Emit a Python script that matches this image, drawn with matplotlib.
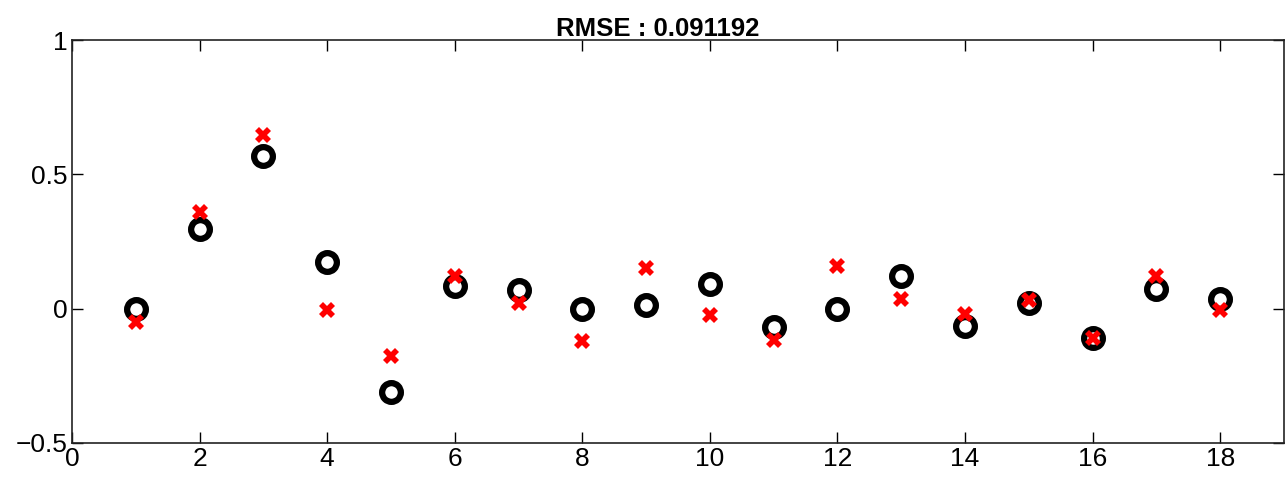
import numpy as np
import matplotlib
matplotlib.use("Agg")
import matplotlib.pyplot as plt

plt.rcParams['font.family'] = ['Liberation Sans', 'DejaVu Sans']

# sample index
idx = np.arange(1, 19)
# measured values (black circles)
measured = [-0.003, 0.295, 0.57, 0.175, -0.31, 0.083, 0.068, 0.0, 0.015,
            0.09, -0.07, 0.0, 0.12, -0.063, 0.02, -0.11, 0.075, 0.037]
# predicted values (red crosses)
predicted = [-0.05, 0.36, 0.645, -0.005, -0.178, 0.12, 0.02, -0.12, 0.15,
             -0.025, -0.115, 0.16, 0.037, -0.018, 0.033, -0.11, 0.12, -0.005]
rmse_text = "RMSE : 0.091192"

fig = plt.figure(figsize=(12.88, 4.83), dpi=100)
ax = fig.add_axes([72/1288, 1 - 443/483, (1284-72)/1288, (443-40)/483])

ax.plot(idx, measured, 'o', markersize=13.5, markerfacecolor='white',
        markeredgecolor='black', markeredgewidth=4.5, linestyle='none')
ax.plot(idx, predicted, 'X', markersize=12, color='red',
        markeredgewidth=0, linestyle='none')

ax.set_xlim(0, 19)
ax.set_ylim(-0.5, 1)
ax.set_xticks(np.arange(0, 19, 2))
ax.set_yticks([-0.5, 0, 0.5, 1])
ax.set_yticklabels(['\u22120.5', '0', '0.5', '1'])
ax.tick_params(direction='in', length=8, width=1, labelsize=19, pad=3)
ax.tick_params(axis='x', top=True)
ax.tick_params(axis='y', right=True)
for s in ax.spines.values():
    s.set_linewidth(1.2)
    s.set_color('#222222')

# title sits a little left of the axes centre in the original
ax.set_title(rmse_text, fontsize=18.5, fontweight='bold', pad=3, x=0.483)

fig.savefig('out.png', dpi=100)
